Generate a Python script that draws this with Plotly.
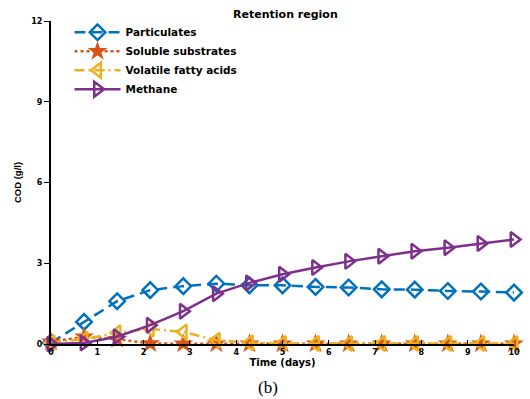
import plotly.graph_objects as go

time_days = [0, 0.714, 1.429, 2.143, 2.857, 3.571, 4.286, 5.0, 5.714, 6.429, 7.143, 7.857, 8.571, 9.286, 10.0]
particulates = [0.05, 0.82, 1.59, 2.0, 2.15, 2.24, 2.18, 2.18, 2.12, 2.1, 2.03, 2.02, 1.97, 1.95, 1.91]
soluble = [0.08, 0.27, 0.18, 0.02, 0.01, 0.01, 0.01, 0.01, 0.01, 0.01, 0.01, 0.01, 0.01, 0.01, 0.01]
vfa = [0.05, 0.18, 0.42, 0.56, 0.45, 0.14, 0.05, 0.02, 0.02, 0.02, 0.02, 0.02, 0.02, 0.02, 0.02]
methane = [0.0, 0.04, 0.27, 0.7, 1.22, 1.87, 2.27, 2.59, 2.84, 3.07, 3.26, 3.45, 3.58, 3.73, 3.88]

x_ticks = [0, 1, 2, 3, 4, 5, 6, 7, 8, 9, 10]
y_ticks = [0, 3, 6, 9, 12]

wide = "DejaVu Sans"
narrow = "Liberation Sans"

fig = go.Figure()
fig.add_trace(go.Scatter(
    x=time_days, y=particulates, name="Particulates", mode="lines+markers",
    line=dict(color="#0072BD", width=2.5, dash="11px,6px"),
    marker=dict(symbol="diamond-open", size=12, color="#0072BD", line=dict(width=2.5)),
    cliponaxis=False))
fig.add_trace(go.Scatter(
    x=time_days, y=soluble, name="Soluble substrates", mode="lines+markers",
    line=dict(color="#D95319", width=2.5, dash="dot"),
    marker=dict(symbol="star", size=15, color="#D95319"),
    cliponaxis=False))
fig.add_trace(go.Scatter(
    x=time_days, y=vfa, name="Volatile fatty acids", mode="lines+markers",
    line=dict(color="#EDB120", width=2.5, dash="10px,4px,2px,4px"),
    marker=dict(symbol="triangle-left-open", size=13, color="#EDB120", line=dict(width=2.5)),
    cliponaxis=False))
fig.add_trace(go.Scatter(
    x=time_days, y=methane, name="Methane", mode="lines+markers",
    line=dict(color="#7E2F8E", width=2.5),
    marker=dict(symbol="triangle-right-open", size=13, color="#7E2F8E", line=dict(width=2.5)),
    cliponaxis=False))

fig.update_layout(
    width=530, height=399,
    margin=dict(l=51, r=10, t=21, b=55),
    paper_bgcolor="white", plot_bgcolor="white",
    font=dict(family=wide, size=9, color="black", weight="bold"),
    title=dict(text="Retention region", x=0.5385, xanchor="center", y=0.965, yanchor="middle",
               font=dict(family=wide, size=11, weight="bold", color="black")),
    showlegend=True,
    legend=dict(x=0.04, y=1.01, xanchor="left", yanchor="top",
                bgcolor="rgba(0,0,0,0)", font=dict(family=wide, size=10.5, weight="bold"),
                tracegroupgap=0, itemwidth=46),
    xaxis=dict(range=[0, 10], tickvals=x_ticks, showgrid=False, zeroline=False,
               showline=True, linecolor="black", linewidth=1.5,
               ticks="inside", ticklen=4, tickcolor="black",
               tickfont=dict(family=wide, size=8, weight="bold"),
               title=dict(text="Time (days)", standoff=1,
                          font=dict(family=wide, size=10, weight="bold"))),
    yaxis=dict(range=[0, 12], tickvals=y_ticks, showgrid=False, zeroline=False,
               showline=True, linecolor="black", linewidth=2,
               ticks="outside", ticklen=5, tickcolor="black",
               tickfont=dict(family=wide, size=8, weight="bold"),
               title=dict(text="COD (g/l)", standoff=8,
                          font=dict(family=narrow, size=9.5, weight="bold"))),
)

fig.add_annotation(text="(b)", xref="paper", yref="paper", x=0.469, y=-0.1,
                   xanchor="center", yanchor="top", showarrow=False,
                   font=dict(family="Liberation Serif", size=17, color="black", weight="normal"))

fig.write_html("out.html", config={"displayModeBar": False},
               post_script="document.body.style.margin='0px';")
